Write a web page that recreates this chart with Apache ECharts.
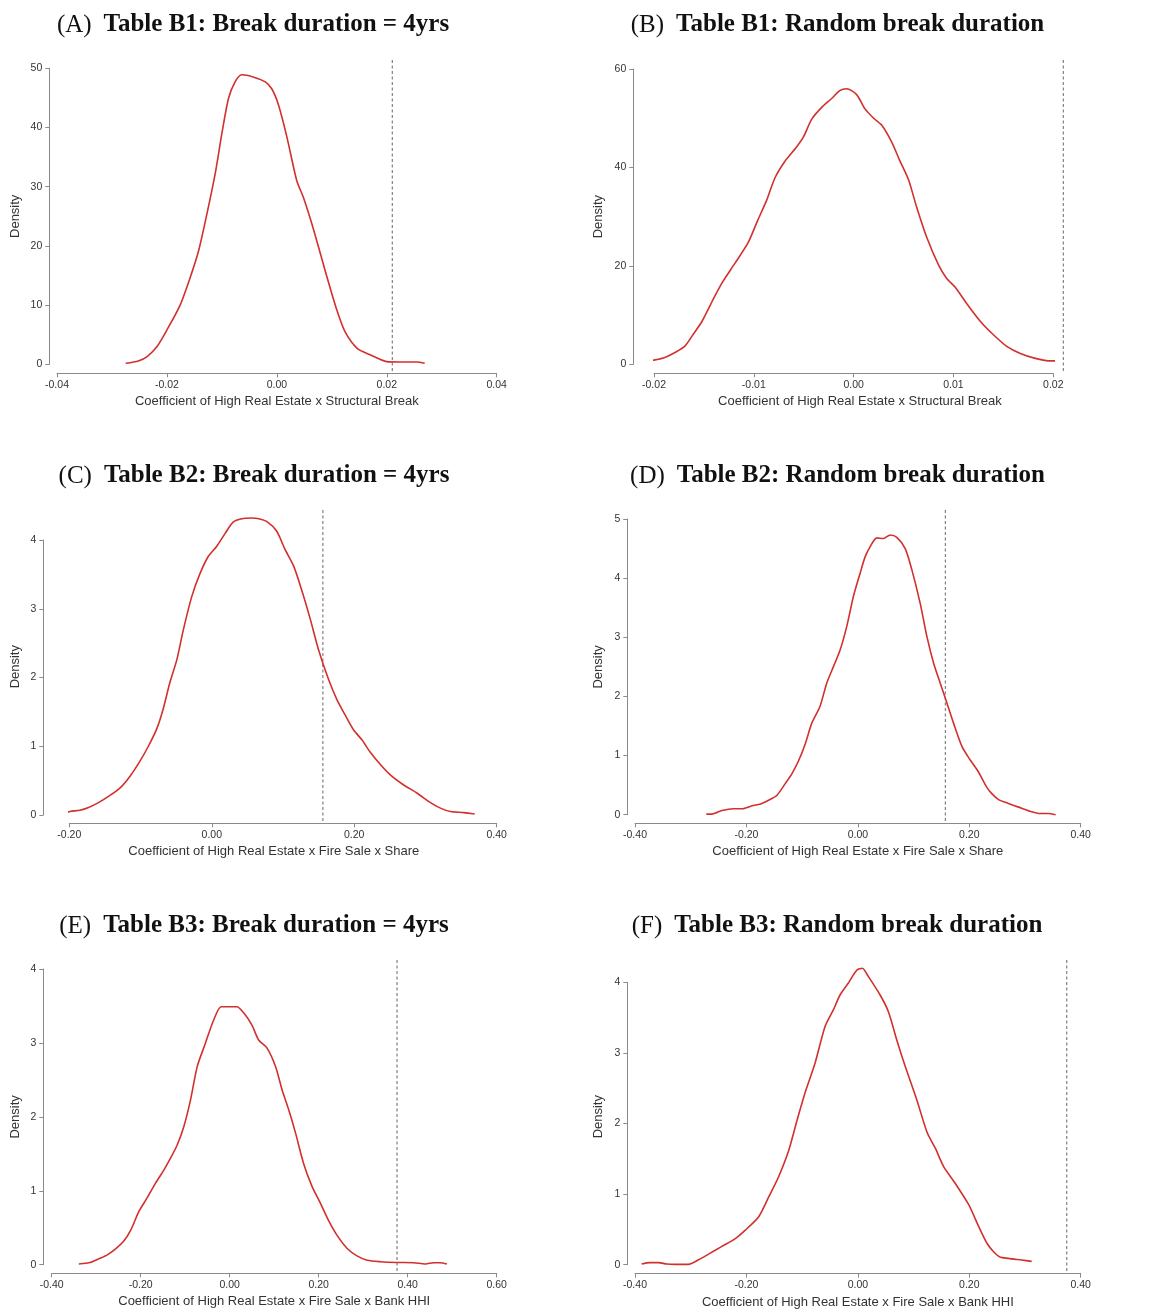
<!DOCTYPE html>
<html>
<head>
<meta charset="utf-8">
<script src="https://cdn.jsdelivr.net/npm/echarts@6/dist/echarts.min.js"></script>
<style>html,body{margin:0;padding:0;background:#fff}#c{width:1150px;height:1313px}</style>
</head>
<body>
<div id="c"></div>
<script>
// ---------- data ----------
const titlesTag = ['(A)', '(B)', '(C)', '(D)', '(E)', '(F)'];
const titlesText = [
  'Table B1: Break duration = 4yrs', 'Table B1: Random break duration',
  'Table B2: Break duration = 4yrs', 'Table B2: Random break duration',
  'Table B3: Break duration = 4yrs', 'Table B3: Random break duration'
];
const xNames = [
  'Coefficient of High Real Estate x Structural Break', 'Coefficient of High Real Estate x Structural Break',
  'Coefficient of High Real Estate x Fire Sale x Share', 'Coefficient of High Real Estate x Fire Sale x Share',
  'Coefficient of High Real Estate x Fire Sale x Bank HHI', 'Coefficient of High Real Estate x Fire Sale x Bank HHI'
];
const yName = 'Density';

// axis tick ranges [min, max, interval]
const xTicks = [[-0.04, 0.04, 0.02], [-0.02, 0.02, 0.01], [-0.2, 0.4, 0.2], [-0.4, 0.4, 0.2], [-0.4, 0.6, 0.2], [-0.4, 0.4, 0.2]];
const yTicks = [[0, 50, 10], [0, 60, 20], [0, 4, 1], [0, 5, 1], [0, 4, 1], [0, 4, 1]];

// observed coefficient (dashed line)
const vLines = [0.021, 0.021, 0.156, 0.157, 0.376, 0.375];

const aX = [-0.0275,-0.0252,-0.0236,-0.0218,-0.0200,-0.0176,-0.0155,-0.0142,-0.0127,-0.0112,-0.0100,-0.0088,-0.0076,-0.0064,-0.0042,-0.0021,-0.0009,0.0003,0.0018,0.0036,0.0049,0.0067,0.0091,0.0109,0.0124,0.0146,0.0170,0.0200,0.0224,0.0255,0.0269];
const aY = [0.17,0.56,1.3,3.0,5.8,10.0,15.4,19.3,25.5,32.3,39.0,44.9,47.7,48.9,48.5,47.7,46.5,43.8,38.5,31.1,28.0,22.7,14.8,9.2,5.5,2.7,1.6,0.45,0.4,0.4,0.17];

const bX = [-0.0214,-0.0199,-0.0189,-0.0179,-0.0169,-0.0161,-0.0152,-0.0142,-0.0132,-0.0119,-0.0106,-0.0096,-0.0087,-0.0079,-0.0069,-0.0057,-0.0050,-0.0042,-0.0032,-0.0022,-0.0014,-0.0007,0.0003,0.0011,0.0020,0.0028,0.0038,0.0046,0.0055,0.0063,0.0073,0.0085,0.0093,0.0102,0.0113,0.0127,0.0140,0.0153,0.0167,0.0182,0.0195,0.0212,0.0227];
const bY = [0.4,0.9,1.4,2.4,3.7,6.0,8.7,12.7,16.5,20.5,24.6,29.3,33.4,37.8,41.2,44.2,46.3,49.8,52.2,54.0,55.6,56.0,54.8,52.0,50.0,48.6,45.2,41.5,37.5,32.0,25.9,20.2,17.5,15.6,12.4,8.7,6.0,3.7,2.2,1.2,0.7,0.7,0.4];

const cX = [-0.225,-0.211,-0.199,-0.185,-0.173,-0.159,-0.145,-0.129,-0.115,-0.101,-0.089,-0.077,-0.068,-0.059,-0.049,-0.040,-0.028,-0.017,-0.005,0.007,0.019,0.030,0.042,0.056,0.066,0.077,0.091,0.103,0.115,0.126,0.138,0.150,0.164,0.176,0.187,0.199,0.211,0.222,0.237,0.251,0.269,0.288,0.307,0.321,0.335,0.354,0.369];
const cY = [0.015,0.015,0.05,0.07,0.11,0.18,0.27,0.39,0.56,0.78,1.0,1.26,1.55,1.92,2.26,2.69,3.18,3.50,3.76,3.91,4.10,4.26,4.31,4.32,4.31,4.27,4.13,3.86,3.62,3.28,2.86,2.40,1.97,1.67,1.46,1.24,1.09,0.92,0.73,0.58,0.44,0.32,0.18,0.10,0.05,0.035,0.015];

const dX = [-0.272,-0.262,-0.244,-0.223,-0.208,-0.190,-0.172,-0.157,-0.145,-0.130,-0.118,-0.106,-0.094,-0.083,-0.068,-0.056,-0.044,-0.032,-0.020,-0.008,0.004,0.013,0.022,0.034,0.046,0.058,0.070,0.085,0.097,0.112,0.124,0.136,0.148,0.157,0.172,0.187,0.202,0.216,0.231,0.240,0.252,0.270,0.294,0.312,0.327,0.342,0.355];
const dY = [0.01,0.01,0.07,0.10,0.10,0.15,0.19,0.26,0.33,0.53,0.70,0.92,1.21,1.54,1.83,2.22,2.50,2.78,3.18,3.69,4.08,4.36,4.53,4.68,4.67,4.73,4.69,4.50,4.14,3.57,3.01,2.56,2.22,1.97,1.54,1.15,0.92,0.73,0.47,0.36,0.26,0.19,0.11,0.05,0.02,0.02,0.0];

const eX = [-0.339,-0.313,-0.294,-0.276,-0.257,-0.238,-0.223,-0.204,-0.186,-0.167,-0.148,-0.133,-0.118,-0.103,-0.088,-0.073,-0.055,-0.036,-0.019,0.016,0.031,0.050,0.065,0.084,0.103,0.118,0.133,0.148,0.166,0.185,0.204,0.222,0.241,0.264,0.286,0.309,0.339,0.376,0.413,0.440,0.458,0.473,0.488];
const eY = [0.01,0.03,0.08,0.13,0.21,0.32,0.46,0.72,0.90,1.10,1.28,1.44,1.62,1.87,2.23,2.68,2.99,3.31,3.49,3.49,3.41,3.24,3.04,2.93,2.68,2.36,2.09,1.78,1.37,1.06,0.83,0.60,0.40,0.22,0.12,0.06,0.04,0.03,0.027,0.01,0.027,0.027,0.01];

const fX = [-0.388,-0.373,-0.358,-0.343,-0.328,-0.304,-0.286,-0.268,-0.244,-0.220,-0.202,-0.178,-0.160,-0.142,-0.124,-0.109,-0.095,-0.077,-0.059,-0.044,-0.032,-0.017,-0.002,0.008,0.019,0.040,0.055,0.070,0.085,0.106,0.124,0.139,0.154,0.175,0.199,0.217,0.232,0.244,0.255,0.270,0.294,0.312];
const fY = [0.01,0.03,0.03,0.01,0.005,0.005,0.07,0.15,0.26,0.37,0.49,0.68,0.96,1.25,1.62,2.05,2.43,2.85,3.37,3.61,3.82,3.99,4.17,4.20,4.08,3.82,3.58,3.18,2.81,2.33,1.88,1.65,1.39,1.15,0.85,0.54,0.30,0.18,0.11,0.09,0.066,0.047];

const curvesX = [aX, bX, cX, dX, eX, fX];
const curvesY = [aY, bY, cY, dY, eY, fY];

// ---------- layout (pixels) ----------
const layout = [
  {left: 57,    top: 68.3,  width: 439.7, height: 296,   yOff: 7.7,  xOff: 9,   regionTop: 60,  yGap: 27, nameShiftX: 0,    nameShiftY: 0,    titleX: 248,   titleY: 20},
  {left: 654,   top: 69,    width: 399.3, height: 295.3, yOff: 20.7, xOff: 9,   regionTop: 60,  yGap: 28, nameShiftX: 6.3,  nameShiftY: 0,    titleX: 832.5, titleY: 20},
  {left: 69.3,  top: 540,   width: 427.4, height: 275,   yOff: 26,   xOff: 8.3, regionTop: 510, yGap: 21, nameShiftX: -9.2, nameShiftY: 10.8, titleX: 249,   titleY: 471},
  {left: 635,   top: 519,   width: 445.7, height: 295.7, yOff: 7.7,  xOff: 8.6, regionTop: 510, yGap: 22, nameShiftX: 0,    nameShiftY: 0,    titleX: 832.5, titleY: 471},
  {left: 51.7,  top: 969,   width: 445,   height: 295.7, yOff: 8.4,  xOff: 8.6, regionTop: 960, yGap: 21, nameShiftX: 0,    nameShiftY: 0,    titleX: 249,   titleY: 921},
  {left: 635,   top: 982.3, width: 445.7, height: 282.4, yOff: 7.7,  xOff: 9,   regionTop: 960, yGap: 22, nameShiftX: 0,    nameShiftY: 6.8,  titleX: 832,   titleY: 921}
];

const AXIS_COLOR = '#8a8a8a';
const LABEL_COLOR = '#333';
const SANS = '"Liberation Sans", Arial, sans-serif';
const SERIF = '"Liberation Serif", "DejaVu Serif", serif';

const grids = [], xAxes = [], yAxes = [], series = [], titles = [];

layout.forEach((L, i) => {
  grids.push({left: L.left, top: L.top, width: L.width, height: L.height, containLabel: false});
  const sx = L.nameShiftX, sy = L.nameShiftY;
  xAxes.push({
    type: 'value', gridIndex: i, position: 'bottom',
    min: xTicks[i][0], max: xTicks[i][1], interval: xTicks[i][2],
    offset: L.xOff,
    axisLine: {show: true, onZero: false, lineStyle: {color: AXIS_COLOR, width: 1}},
    axisTick: {show: true, length: 4, lineStyle: {color: AXIS_COLOR, width: 1}},
    axisLabel: {show: true, margin: 6, fontSize: 10.5, color: LABEL_COLOR, fontFamily: SANS,
      showMinLabel: true, showMaxLabel: true,
      formatter: v => (Math.abs(v) < 1e-12 ? 0 : v).toFixed(2)},
    splitLine: {show: false},
    name: xNames[i], nameLocation: 'middle', nameGap: 22,
    nameTextStyle: {fontSize: 13, color: LABEL_COLOR, fontFamily: SANS,
      padding: sx >= 0 ? [0, 0, 0, 2 * sx] : [0, -2 * sx, 0, 0]}
  });
  yAxes.push({
    type: 'value', gridIndex: i, position: 'left',
    min: yTicks[i][0], max: yTicks[i][1], interval: yTicks[i][2],
    offset: L.yOff,
    axisLine: {show: true, onZero: false, lineStyle: {color: AXIS_COLOR, width: 1}},
    axisTick: {show: true, length: 4, lineStyle: {color: AXIS_COLOR, width: 1}},
    axisLabel: {show: true, margin: 7, fontSize: 10.5, color: LABEL_COLOR, fontFamily: SANS,
      showMinLabel: true, showMaxLabel: true},
    splitLine: {show: false},
    name: yName, nameLocation: 'middle', nameGap: L.yGap, nameRotate: 90,
    nameTextStyle: {fontSize: 13, color: LABEL_COLOR, fontFamily: SANS,
      padding: sy >= 0 ? [0, 0, 0, 2 * sy] : [0, -2 * sy, 0, 0]}
  });
  const pts = curvesX[i].map((x, k) => [x, curvesY[i][k]]);
  series.push({
    type: 'line', xAxisIndex: i, yAxisIndex: i, data: pts,
    showSymbol: false, symbol: 'none', smooth: 0.25, clip: false, silent: true,
    lineStyle: {color: '#d2302c', width: 1.6}
  });
  series.push({
    type: 'custom', xAxisIndex: i, yAxisIndex: i, clip: false, silent: true,
    data: [[vLines[i], 0]],
    renderItem: (params, api) => {
      const cs = params.coordSys;
      const p = api.coord([api.value(0), 0]);
      return {
        type: 'line',
        shape: {x1: p[0], y1: L.regionTop, x2: p[0], y2: cs.y + cs.height + L.xOff},
        style: {stroke: '#666', lineWidth: 1, lineDash: [3, 2.5]}
      };
    }
  });
  titles.push({
    text: '{a|' + titlesTag[i] + '}{b|' + titlesText[i] + '}',
    left: L.titleX, top: L.titleY, textAlign: 'center', textVerticalAlign: 'middle',
    textStyle: {
      rich: {
        a: {fontFamily: SERIF, fontSize: 25, fontWeight: 'normal', color: '#111', padding: [0, 12, 0, 0]},
        b: {fontFamily: SERIF, fontSize: 25, fontWeight: 'bold', color: '#111'}
      }
    }
  });
});

const chart = echarts.init(document.getElementById('c'), null, {renderer: 'canvas'});
chart.setOption({
  animation: false,
  backgroundColor: '#fff',
  title: titles,
  grid: grids,
  xAxis: xAxes,
  yAxis: yAxes,
  series: series
});
</script>
</body>
</html>
